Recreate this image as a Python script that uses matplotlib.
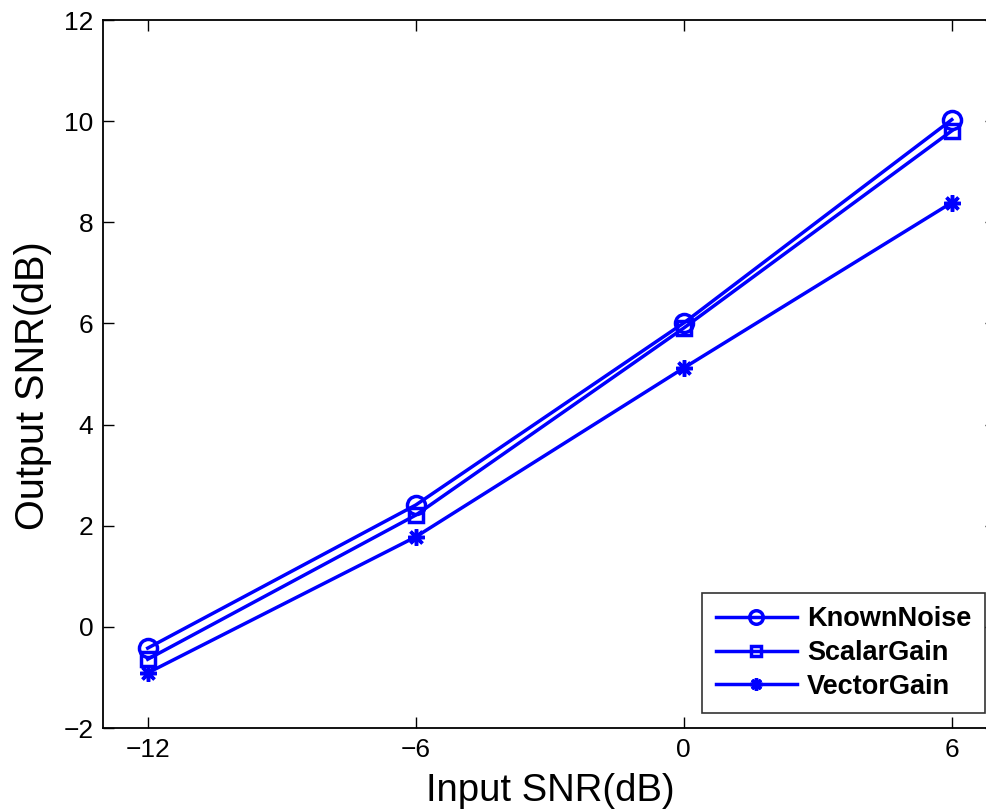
import matplotlib
matplotlib.use('Agg')
import matplotlib.pyplot as plt

plt.rcParams['font.family'] = ['Liberation Sans', 'DejaVu Sans']

input_snr = [-12, -6, 0, 6]
known_noise = [-0.42, 2.41, 6.01, 10.03]
scalar_gain = [-0.64, 2.21, 5.91, 9.81]
vector_gain = [-0.91, 1.78, 5.12, 8.39]
labels = ['KnownNoise', 'ScalarGain', 'VectorGain']

fig = plt.figure(figsize=(9.87, 8.11), dpi=100)
# right part of the axes box falls outside the picture, as in the original
ax = fig.add_axes([0.1044, 0.1023, 0.9052, 0.873])

ax.plot(input_snr, known_noise, color='#0000ff', lw=2.5, marker='o', ms=13,
        mfc='none', mew=2.5, label=labels[0])
ax.plot(input_snr, scalar_gain, color='#0000ff', lw=2.5, marker='s', ms=10.5,
        mfc='none', mew=2.5, label=labels[1])
ax.plot(input_snr, vector_gain, color='#0000ff', lw=2.5, marker=(8, 2, 0), ms=12,
        mew=2.5, label=labels[2])

ax.set_xlim(-13, 7)
ax.set_ylim(-2, 12)
ax.set_xticks(input_snr)
ax.set_xticklabels(['\u221212', '\u22126', '0', '6'])
ax.set_yticks(range(-2, 13, 2))
ax.set_yticklabels([('\u2212' + str(-v)) if v < 0 else str(v) for v in range(-2, 13, 2)])
ax.tick_params(direction='in', length=8, width=1, labelsize=19, top=True, right=True, pad=7)
for s in ax.spines.values():
    s.set_linewidth(1.3)

ax.set_xlabel('Input SNR(dB)', fontsize=27.5)
ax.xaxis.set_label_coords((550 - 103) / 893.4, -0.064)
ax.set_ylabel('Output SNR(dB)', fontsize=28.5, labelpad=8)
ax.yaxis.label.set_y(0.484)

leg = ax.legend(loc='lower right', bbox_to_anchor=(0.987, 0.021), borderaxespad=0,
                prop={'weight': 'bold', 'size': 19.5}, frameon=True,
                fancybox=False, edgecolor='black', markerscale=0.75,
                handlelength=3, handletextpad=0.37, labelspacing=0.28, borderpad=0.5)
leg.get_frame().set_linewidth(1.2)

fig.savefig('out.png', dpi=100)
